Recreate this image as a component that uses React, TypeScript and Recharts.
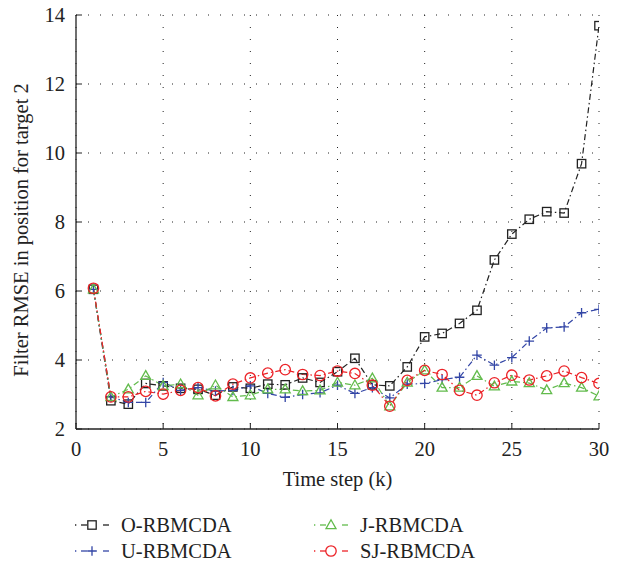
import { CartesianGrid, Label, Line, LineChart, XAxis, YAxis } from 'recharts';

// Pas de temps k = 1..30
const steps = [
  1, 2, 3, 4, 5, 6, 7, 8, 9, 10, 11, 12, 13, 14, 15, 16, 17, 18, 19, 20, 21, 22, 23, 24, 25, 26, 27, 28, 29, 30,
];

const oRbmcda = [
  6.05, 2.82, 2.72, 3.32, 3.25, 3.18, 3.15, 2.98, 3.22, 3.18, 3.3, 3.28, 3.48, 3.35, 3.66, 4.05, 3.28, 3.25, 3.8,
  4.67, 4.77, 5.06, 5.44, 6.9, 7.65, 8.08, 8.3, 8.26, 9.69, 13.69,
];
const uRbmcda = [
  6.05, 2.93, 2.77, 2.77, 3.35, 3.12, 3.2, 3.1, 3.12, 3.25, 3.03, 2.92, 3.0, 3.05, 3.27, 3.03, 3.2, 2.9, 3.3, 3.32,
  3.43, 3.5, 4.14, 3.85, 4.07, 4.55, 4.93, 4.96, 5.37, 5.47,
];
const jRbmcda = [
  6.05, 2.93, 3.15, 3.54, 3.25, 3.3, 2.98, 3.27, 2.93, 2.98, 3.15, 3.15, 3.1, 3.12, 3.35, 3.27, 3.47, 2.66, 3.35,
  3.7, 3.2, 3.2, 3.54, 3.24, 3.38, 3.33, 3.13, 3.33, 3.2, 2.95,
];
const sjRbmcda = [
  6.08, 2.93, 2.93, 3.09, 3.01, 3.12, 3.2, 2.96, 3.3, 3.48, 3.62, 3.72, 3.58, 3.55, 3.68, 3.61, 3.27, 2.66, 3.41,
  3.7, 3.58, 3.12, 2.98, 3.34, 3.56, 3.42, 3.54, 3.68, 3.49, 3.32,
];

const xTicks = [0, 5, 10, 15, 20, 25, 30];
const yTicks = [2, 4, 6, 8, 10, 12, 14];

const FONT = '"Liberation Serif", "DejaVu Serif", serif';
const FS = 20.5;
const INK = '#222';
const DASH = '6 3 1.5 3';

type Shape = 'square' | 'plus' | 'triangle' | 'circle';

interface SeriesDef {
  id: string;
  label: string;
  color: string;
  shape: Shape;
  values: number[];
}

const series: SeriesDef[] = [
  { id: 'o', label: 'O-RBMCDA', color: '#222222', shape: 'square', values: oRbmcda },
  { id: 'u', label: 'U-RBMCDA', color: '#3346a6', shape: 'plus', values: uRbmcda },
  { id: 'j', label: 'J-RBMCDA', color: '#62bb4c', shape: 'triangle', values: jRbmcda },
  { id: 'sj', label: 'SJ-RBMCDA', color: '#ec2227', shape: 'circle', values: sjRbmcda },
];

const data = steps.map((k, i) => {
  const row: Record<string, number> = { k };
  for (const s of series) row[s.id] = s.values[i];
  return row;
});

function Marker({ shape, cx, cy, color }: { shape: Shape; cx: number; cy: number; color: string }) {
  const sw = 1.3;
  switch (shape) {
    case 'square':
      return <rect x={cx - 4.2} y={cy - 4.2} width={8.4} height={8.4} fill="none" stroke={color} strokeWidth={sw} />;
    case 'plus':
      return (
        <path d={`M${cx - 4.8},${cy}H${cx + 4.8}M${cx},${cy - 4.8}V${cy + 4.8}`} stroke={color} strokeWidth={sw} fill="none" />
      );
    case 'triangle':
      return (
        <path
          d={`M${cx},${cy - 5.2}L${cx + 5},${cy + 3.6}L${cx - 5},${cy + 3.6}Z`}
          stroke={color}
          strokeWidth={sw}
          fill="none"
        />
      );
    default:
      return <circle cx={cx} cy={cy} r={5.2} stroke={color} strokeWidth={sw} fill="none" />;
  }
}

function makeDot(s: SeriesDef) {
  return (props: any) => {
    const { cx, cy, index } = props;
    if (cx == null || cy == null) return <g key={`${s.id}-${index}`} />;
    return (
      <g key={`${s.id}-${index}`}>
        <Marker shape={s.shape} cx={cx} cy={cy} color={s.color} />
      </g>
    );
  };
}

const emptyTick = () => <g />;

function LegendItem({ s }: { s: SeriesDef }) {
  return (
    <div style={{ display: 'flex', alignItems: 'center', height: 26 }}>
      <svg width={48} height={20}>
        <line x1={2} y1={10} x2={3.3} y2={10} stroke={s.color} strokeWidth={1.3} />
        <line x1={8} y1={10} x2={14} y2={10} stroke={s.color} strokeWidth={1.3} />
        <Marker shape={s.shape} cx={19} cy={10} color={s.color} />
        <line x1={30} y1={10} x2={36} y2={10} stroke={s.color} strokeWidth={1.3} />
      </svg>
      <span style={{ fontFamily: FONT, fontSize: FS, color: INK }}>{s.label}</span>
    </div>
  );
}

export default function App() {
  return (
    <div style={{ position: 'absolute', left: 0, top: 0, width: 620, height: 565, background: '#fff' }}>
      <LineChart
        width={620}
        height={565}
        data={data}
        margin={{ top: 15, right: 21, bottom: 0, left: 0 }}
      >
        <CartesianGrid stroke={INK} strokeDasharray="1 11" strokeWidth={1} />
        <XAxis
          dataKey="k"
          type="number"
          domain={[0, 30]}
          ticks={xTicks}
          height={136}
          stroke={INK}
          tickSize={-6}
          tickMargin={18}
          axisLine={{ stroke: INK, strokeWidth: 1.3 }}
          tick={{ fontSize: FS, fill: INK, fontFamily: FONT }}
          allowDataOverflow
        >
          <Label
            value="Time step (k)"
            position="insideTop"
            offset={42}
            style={{ fontSize: FS, fill: INK, fontFamily: FONT }}
          />
        </XAxis>
        <XAxis
          xAxisId="top"
          orientation="top"
          dataKey="k"
          type="number"
          domain={[0, 30]}
          ticks={xTicks}
          height={0}
          tickSize={-6}
          stroke={INK}
          axisLine={{ stroke: INK, strokeWidth: 1.3 }}
          tick={emptyTick}
        />
        <YAxis
          domain={[2, 14]}
          ticks={yTicks}
          width={76}
          stroke={INK}
          tickSize={-6}
          tickMargin={17}
          axisLine={{ stroke: INK, strokeWidth: 1.3 }}
          tick={{ fontSize: FS, fill: INK, fontFamily: FONT }}
          allowDataOverflow
        >
          <Label
            value="Filter RMSE in position for target 2"
            angle={-90}
            position="insideLeft"
            offset={21}
            dy={8}
            style={{ fontSize: FS, fill: INK, fontFamily: FONT, textAnchor: 'middle' }}
          />
        </YAxis>
        <YAxis
          yAxisId="right"
          orientation="right"
          domain={[2, 14]}
          ticks={yTicks}
          width={0}
          tickSize={-6}
          stroke={INK}
          axisLine={{ stroke: INK, strokeWidth: 1.3 }}
          tick={emptyTick}
        />
        {series.map((s) => (
          <Line
            key={s.id}
            dataKey={s.id}
            name={s.label}
            type="linear"
            stroke={s.color}
            strokeWidth={1.2}
            strokeDasharray={DASH}
            dot={makeDot(s)}
            activeDot={false}
            isAnimationActive={false}
          />
        ))}
      </LineChart>
      <div
        style={{
          position: 'absolute',
          left: 73,
          top: 512,
          display: 'grid',
          gridTemplateColumns: '239px 239px',
        }}
      >
        <LegendItem s={series[0]} />
        <LegendItem s={series[2]} />
        <LegendItem s={series[1]} />
        <LegendItem s={series[3]} />
      </div>
    </div>
  );
}
